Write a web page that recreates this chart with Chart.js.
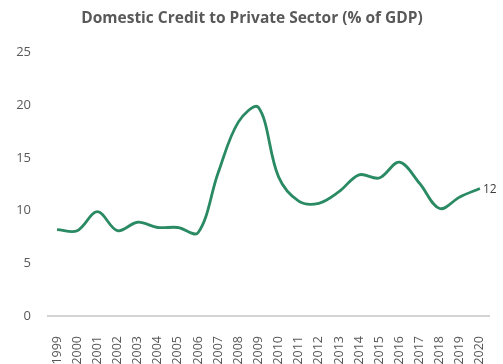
<!DOCTYPE html>
<html>
<head>
<meta charset="utf-8">
<script src="https://cdn.jsdelivr.net/npm/chart.js@4.4.0/dist/chart.umd.min.js"></script>
<style>
  html, body { margin: 0; padding: 0; background: #fff; }
  #wrap { width: 503px; height: 364px; }
</style>
</head>
<body>
<div id="wrap"><canvas id="creditChart"></canvas></div>
<script>
const years = ["1999", "2000", "2001", "2002", "2003", "2004", "2005", "2006", "2007", "2008", "2009",
  "2010", "2011", "2012", "2013", "2014", "2015", "2016", "2017", "2018", "2019", "2020"];
const creditPct = [8.2, 8.1, 9.9, 8.1, 8.9, 8.4, 8.4, 7.9, 13.6, 18.4, 19.8,
  13.2, 10.9, 10.7, 11.8, 13.4, 13.1, 14.6, 12.6, 10.2, 11.3, 12.1];
const lastLabel = "12";
const yTicks = [0, 5, 10, 15, 20, 25];

const grey = "#595959";
const green = "#2a8a63";

// label at the last point
const endLabel = {
  id: "endLabel",
  afterDatasetsDraw(chart) {
    const meta = chart.getDatasetMeta(0);
    const pt = meta.data[meta.data.length - 1];
    const ctx = chart.ctx;
    ctx.save();
    ctx.font = "12px 'Open Sans'";
    ctx.fillStyle = "#404040";
    ctx.textAlign = "left";
    ctx.textBaseline = "middle";
    ctx.fillText(lastLabel, pt.x + 3, pt.y + 1);
    ctx.restore();
  },
};

new Chart(document.getElementById("creditChart"), {
  type: "line",
  data: {
    labels: years,
    datasets: [
      {
        data: creditPct,
        borderColor: green,
        borderWidth: 2.8,
        pointRadius: 0,
        tension: 0.35,
        fill: false,
      },
    ],
  },
  options: {
    responsive: true,
    maintainAspectRatio: false,
    animation: false,
    layout: { padding: { left: 14, right: 13, top: 0, bottom: 0 } },
    plugins: {
      legend: { display: false },
      tooltip: { enabled: false },
      title: {
        display: true,
        text: "Domestic Credit to Private Sector (% of GDP)",
        color: grey,
        font: { family: "'Open Sans'", size: 15.5, weight: "bold" },
        padding: { top: 9, bottom: 25 },
      },
    },
    scales: {
      x: {
        offset: true,
        grid: { display: false },
        border: { display: false },
        afterFit(scale) {
          scale.height = 48;
          scale.paddingRight = 0;
        },
        ticks: {
          color: grey,
          font: { family: "'Open Sans'", size: 12.5 },
          minRotation: 90,
          maxRotation: 90,
          autoSkip: false,
          padding: 12,
        },
      },
      y: {
        min: 0,
        max: 25,
        afterBuildTicks(scale) {
          scale.ticks = yTicks.map((v) => ({ value: v }));
        },
        afterFit(scale) {
          scale.width = 33;
        },
        border: { display: false },
        grid: {
          drawTicks: false,
          color: (c) => (c.tick && c.tick.value === 0 ? "#d4d4d4" : "rgba(0,0,0,0)"),
          lineWidth: 2,
        },
        ticks: {
          color: grey,
          font: { family: "'Open Sans'", size: 13 },
          padding: 16,
        },
      },
    },
  },
  plugins: [endLabel],
});
</script>
</body>
</html>
